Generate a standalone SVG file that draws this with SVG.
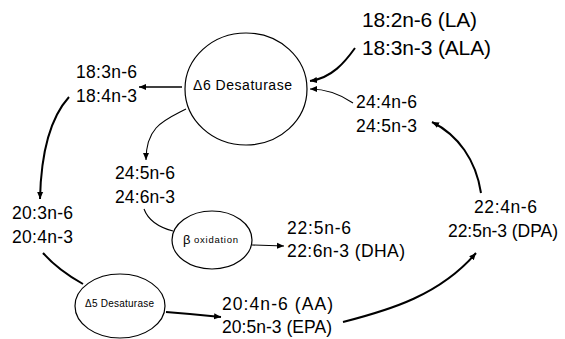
<svg xmlns="http://www.w3.org/2000/svg" width="565" height="339" viewBox="0 0 565 339">
<style>
.t{font-family:"Liberation Sans",Arial,sans-serif;fill:#000}
.big{font-size:21px}
.med{font-size:17.5px}
.node{fill:#fff;stroke:#000;stroke-width:1.2}
.c{fill:none;stroke:#000}
.thick{stroke-width:2}
.mid{stroke-width:1.6}
.thin{stroke-width:1.1}
</style>
<defs>
<marker id="ah" markerUnits="userSpaceOnUse" markerWidth="8" markerHeight="8" viewBox="0 0 8 8" refX="7" refY="4" orient="auto">
<path d="M0,1 L7,4 L0,7 Z" fill="#000"/>
</marker>
</defs>
<rect width="565" height="339" fill="#fff"/>
<g id="connectors">
<path class="c thick" d="M355,48 C345,62 332,78 310,81" marker-end="url(#ah)"/>
<path class="c thin" d="M353,103 C340,94 326,89 310,89" marker-end="url(#ah)"/>
<path class="c mid" d="M182,87 L139,87" marker-end="url(#ah)"/>
<path class="c thin" d="M186,109 C165,120 146,126 146,160" marker-end="url(#ah)"/>
<path class="c thick" d="M69,97 C50,118 41,155 40,199" marker-end="url(#ah)"/>
<path class="c thick" d="M43,253 Q58,270 83,284"/>
<path class="c thin" d="M144,209 Q150,225 173,231"/>
<path class="c thin" d="M252,245 L284,246" marker-end="url(#ah)"/>
<path class="c thick" d="M166,312 Q192,314 221,317" marker-end="url(#ah)"/>
<path class="c thick" d="M343,322 C390,310 440,295 476,253" marker-end="url(#ah)"/>
<path class="c thick" d="M481,193 C476,160 458,135 432,122" marker-end="url(#ah)"/>
</g>
<g id="la-ala">
<text class="t big" x="362" y="27" textLength="115">18:2n-6 (LA)</text>
<text class="t big" x="362" y="55" textLength="129">18:3n-3 (ALA)</text>
</g>
<g id="d6">
<ellipse class="node" cx="246" cy="89" rx="61" ry="56"/>
<text class="t" x="193" y="90" font-size="14" textLength="99">Δ6 Desaturase</text>
</g>
<g id="n18">
<text class="t med" x="76" y="78" textLength="61">18:3n-6</text>
<text class="t med" x="76" y="102" textLength="61">18:4n-3</text>
</g>
<g id="n24a">
<text class="t med" x="356" y="108" textLength="61">24:4n-6</text>
<text class="t med" x="356" y="132" textLength="61">24:5n-3</text>
</g>
<g id="n24b">
<text class="t med" x="115" y="179" textLength="60">24:5n-6</text>
<text class="t med" x="115" y="203" textLength="60">24:6n-3</text>
</g>
<g id="n20">
<text class="t med" x="12" y="219" textLength="61">20:3n-6</text>
<text class="t med" x="12" y="243" textLength="61">20:4n-3</text>
</g>
<g id="beta">
<ellipse class="node" cx="212" cy="240" rx="40" ry="29"/>
<text class="t" x="183" y="244" font-size="13">β</text>
<text class="t" x="194" y="243" font-size="9.5" textLength="44">oxidation</text>
</g>
<g id="dha">
<text class="t med" x="287" y="234" textLength="64">22:5n-6</text>
<text class="t med" x="287" y="257" textLength="118">22:6n-3 (DHA)</text>
</g>
<g id="d5">
<ellipse class="node" cx="120" cy="306" rx="45" ry="32"/>
<text class="t" x="85" y="307" font-size="10" textLength="69">Δ5 Desaturase</text>
</g>
<g id="aa-epa">
<text class="t med" x="222" y="310" textLength="111">20:4n-6 (AA)</text>
<text class="t med" x="222" y="333" textLength="110">20:5n-3 (EPA)</text>
</g>
<g id="dpa">
<text class="t med" x="474" y="213" textLength="63">22:4n-6</text>
<text class="t med" x="448" y="237" textLength="110">22:5n-3 (DPA)</text>
</g>
</svg>
